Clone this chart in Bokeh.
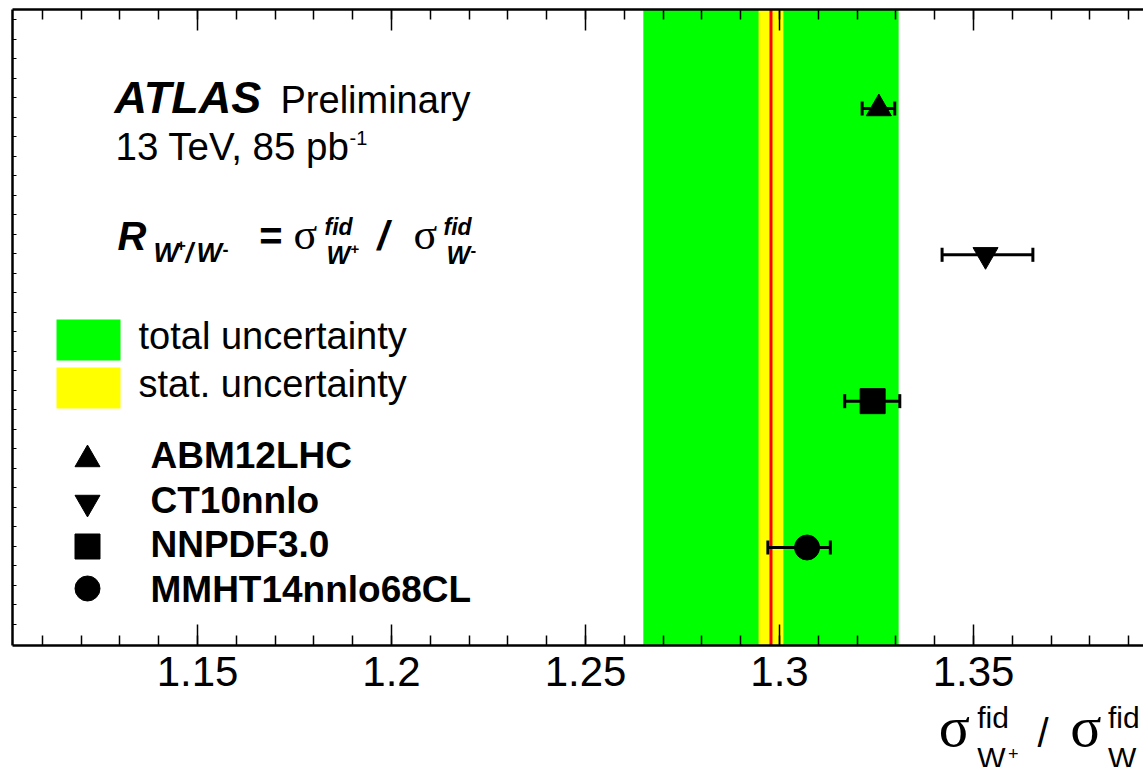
import numpy as np
from bokeh.plotting import figure
from bokeh.layouts import column
from bokeh.models import (ColumnDataSource, Whisker, TeeHead, BoxAnnotation, Span,
                          Label, LinearAxis, FixedTicker, CustomJSTickFormatter, Range1d)
from bokeh.embed import file_html
from bokeh.resources import INLINE

# ---------------- data ----------------
models = ["ABM12LHC", "CT10nnlo", "NNPDF3.0", "MMHT14nnlo68CL"]
markers = ["triangle", "inverted_triangle", "square", "circle"]
rows = [4, 3, 2, 1]
pred = [1.3256, 1.3531, 1.3240, 1.3071]
pred_lo = [1.3213, 1.3419, 1.3168, 1.2970]
pred_hi = [1.3297, 1.3653, 1.3310, 1.3131]

meas = 1.2978
stat_unc = 0.0032
total_unc = 0.0329

major_ticks = [1.15, 1.2, 1.25, 1.3, 1.35, 1.4]
minor_ticks = [round(1.11 + 0.01 * i, 2) for i in range(30)]

# ---------------- layout ----------------
W = 1143
H1, H2 = 705, 62
FL, FR, FT, FB = 12, 1143, 9, 645          # frame edges in page pixels
X0, X1 = 1.10232, 1.39381
Y0, Y1 = 0.3303, 4.6766
BASE_SHIFT = 0.36                          # label anchor correction (fraction of font size)

SANS = "Liberation Sans"
SERIF = "Liberation Serif"


def dx(px):
    return X0 + (px - FL) / (FR - FL) * (X1 - X0)


def dy(py):
    return Y1 - (py - FT) / (FB - FT) * (Y1 - Y0)


p = figure(width=W, height=H1, output_backend="svg", toolbar_location=None,
           x_range=Range1d(X0, X1), y_range=Range1d(Y0, Y1),
           min_border_left=FL, min_border_top=FT, min_border_right=0,
           min_border_bottom=H1 - FB)
p.title.visible = False
p.outline_line_color = None
p.grid.visible = False
p.background_fill_color = "white"
p.border_fill_color = "white"

# bottom axis
xa = p.xaxis[0]
xa.ticker = FixedTicker(ticks=major_ticks, minor_ticks=minor_ticks)
xa.formatter = CustomJSTickFormatter(code="return tick.toFixed(2).replace(/0$/, '')")
xa.major_tick_in = 21
xa.major_tick_out = 0
xa.minor_tick_in = 10
xa.minor_tick_out = 0
xa.axis_line_width = 2.5
xa.major_tick_line_width = 1.5
xa.minor_tick_line_width = 1.5
xa.major_label_text_font = SANS
xa.major_label_text_font_size = "42px"
xa.major_label_text_color = "black"
xa.major_label_standoff = 11

# top mirror axis (ticks only)
ta = LinearAxis(ticker=FixedTicker(ticks=major_ticks, minor_ticks=minor_ticks),
                major_tick_in=21, major_tick_out=0, minor_tick_in=10, minor_tick_out=0,
                axis_line_width=2.5, major_tick_line_width=1.5, minor_tick_line_width=1.5,
                major_label_text_font_size="1px", major_label_text_color=None,
                major_label_standoff=0)
p.add_layout(ta, "above")

# left axis: small inner ticks only
ya = p.yaxis[0]
left_ticks = list(4.6083 - 0.13333 * np.arange(32))
ya.ticker = FixedTicker(ticks=left_ticks, minor_ticks=[])
ya.major_tick_in = 4
ya.major_tick_out = 0
ya.minor_tick_in = 0
ya.minor_tick_out = 0
ya.axis_line_width = 2.5
ya.major_tick_line_width = 1
ya.major_label_text_font_size = "1px"
ya.major_label_text_color = None
ya.major_label_standoff = 0

# measurement bands
p.add_layout(BoxAnnotation(left=meas - total_unc, right=meas + total_unc,
                           fill_color="#00ff00", fill_alpha=1, line_alpha=0, level="image"))
p.add_layout(BoxAnnotation(left=meas - stat_unc, right=meas + stat_unc,
                           fill_color="#ffff00", fill_alpha=1, line_alpha=0, level="image"))
p.add_layout(Span(location=meas, dimension="height", line_color="#ff0000",
                  line_width=3, level="image"))

# predictions
src = ColumnDataSource(dict(x=pred, y=rows, lo=pred_lo, hi=pred_hi, m=markers, name=models))
p.add_layout(Whisker(source=src, base="y", lower="lo", upper="hi", dimension="width",
                     line_width=3, line_color="black", level="underlay",
                     lower_head=TeeHead(size=14, line_width=3, line_color="black"),
                     upper_head=TeeHead(size=14, line_width=3, line_color="black")))
p.scatter("x", "y", source=src, marker="m", size=25, fill_color="black", line_color="black")

# ---------------- legend ----------------
p.add_layout(BoxAnnotation(left=dx(56), right=dx(120), top=dy(319), bottom=dy(360),
                           fill_color="#00ff00", fill_alpha=1, line_alpha=0))
p.add_layout(BoxAnnotation(left=dx(56), right=dx(120), top=dy(367), bottom=dy(408),
                           fill_color="#ffff00", fill_alpha=1, line_alpha=0))


def lab(px, py, text, size, style="normal", font=SANS, fig=None, conv=True):
    """px, py: left end and baseline of the text in page pixels."""
    f = p if fig is None else fig
    py = py - BASE_SHIFT * size
    x, y = (dx(px), dy(py)) if conv else (px, py)
    f.add_layout(Label(x=x, y=y, text=text, text_font=font,
                       text_font_size=f"{size}px", text_font_style=style,
                       text_color="black", text_align="left",
                       text_baseline="alphabetic"))


lab(138, 349, "total uncertainty", 38)
lab(138, 397, "stat. uncertainty", 38)

leg_y = [459, 502, 546, 588]
for mk, yy in zip(markers, leg_y):
    p.scatter([dx(87)], [dy(yy)], marker=mk, size=25, fill_color="black", line_color="black")
for nm, yb in zip(models, [468, 513, 557, 602]):
    lab(150, yb, nm, 37, "bold")

# ---------------- header texts ----------------
lab(114, 113, "ATLAS", 45, "bold italic")
lab(280, 113, "Preliminary", 38)
lab(115, 160, "13 TeV, 85 pb", 38.5)
lab(349, 145, "-1", 20)

lab(117, 250, "R", 40, "bold italic")
lab(153, 262, "W", 27, "bold italic")
lab(176, 250, "+", 16, "bold")
lab(185, 262, "/", 27, "bold italic")
lab(196, 262, "W", 27, "bold italic")
lab(222, 255, "-", 18, "bold")
lab(258, 250, "=", 40, "bold italic")
lab(293, 250, "σ", 44, "normal", SERIF)
lab(324, 235, "fid", 23, "bold italic")
lab(326, 263, "W", 25, "bold italic")
lab(350, 254, "+", 15, "bold")
lab(377, 250, "/", 40, "bold italic")
lab(413, 250, "σ", 44, "normal", SERIF)
lab(443, 235, "fid", 23, "bold italic")
lab(446, 263, "W", 25, "bold italic")
lab(470, 256, "-", 17, "bold")

# ---------------- x axis title (strip below the plot) ----------------
p2 = figure(width=W, height=H2, output_backend="svg", toolbar_location=None,
            x_range=Range1d(0, W), y_range=Range1d(H1 + H2, H1),
            x_axis_location=None, y_axis_location=None, min_border=0)
p2.title.visible = False
p2.outline_line_color = None
p2.grid.visible = False
p2.background_fill_color = "white"
p2.border_fill_color = "white"

for px, py, t, s, st, fnt in [
        (936, 747, "σ", 58, "normal", SERIF),
        (975, 728, "fid", 30, "normal", SANS),
        (975, 768, "W", 30, "normal", SANS),
        (1006, 759, "+", 18, "normal", SANS),
        (1036, 747, "/", 40, "normal", SANS),
        (1069, 747, "σ", 58, "normal", SERIF),
        (1107, 728, "fid", 30, "normal", SANS),
        (1107, 768, "W", 30, "normal", SANS)]:
    lab(px, py, t, s, st, fnt, fig=p2, conv=False)

layout = column(p, p2, spacing=0)
open("out.html", "w").write(file_html(layout, INLINE))
